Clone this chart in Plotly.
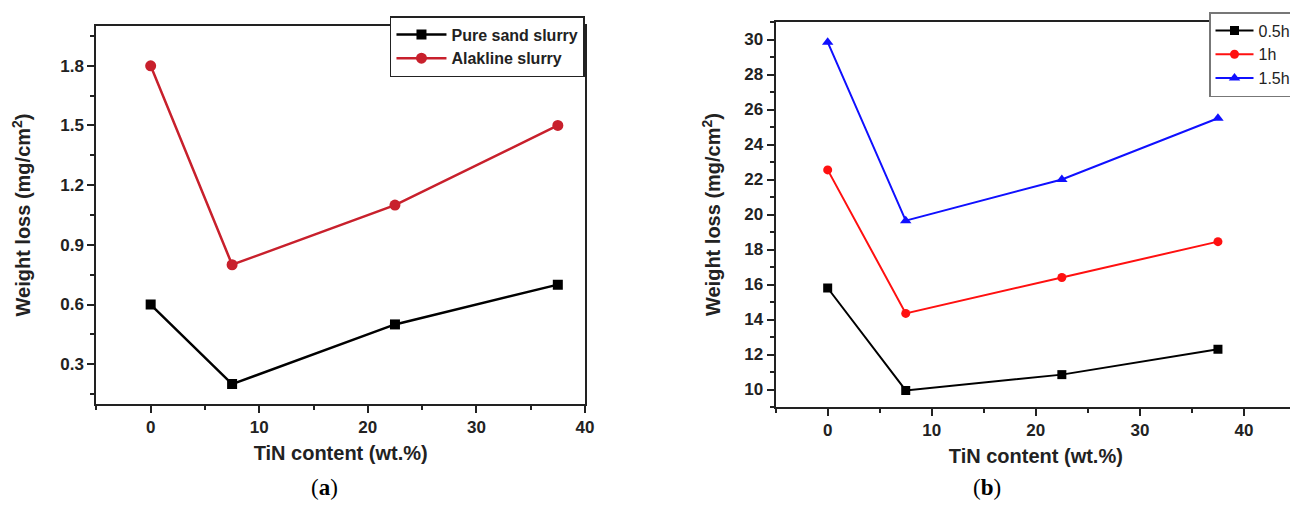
import plotly.graph_objects as go

# ---- data ----
tin_content = [0, 7.5, 22.5, 37.5]

# panel (a)
pure_sand = [0.6, 0.2, 0.5, 0.7]
alkaline = [1.8, 0.8, 1.1, 1.5]

# panel (b)
h05 = [15.8, 9.95, 10.85, 12.3]
h1 = [22.55, 14.35, 16.4, 18.45]
h15 = [29.85, 19.65, 22.0, 25.5]

W, H = 1298, 507
FONT = "Liberation Sans, Arial, sans-serif"

fig = go.Figure()

fig.add_trace(go.Scatter(x=tin_content, y=pure_sand, name="Pure sand slurry",
                         mode="lines+markers", xaxis="x", yaxis="y", legend="legend",
                         line=dict(color="black", width=2.5),
                         marker=dict(symbol="square", size=10, color="black")))
fig.add_trace(go.Scatter(x=tin_content, y=alkaline, name="Alakline slurry",
                         mode="lines+markers", xaxis="x", yaxis="y", legend="legend",
                         line=dict(color="#c8202c", width=2.5),
                         marker=dict(symbol="circle", size=11, color="#c8202c")))

fig.add_trace(go.Scatter(x=tin_content, y=h05, name="0.5h",
                         mode="lines+markers", xaxis="x2", yaxis="y2", legend="legend2",
                         line=dict(color="black", width=2),
                         marker=dict(symbol="square", size=9, color="black")))
fig.add_trace(go.Scatter(x=tin_content, y=h1, name="1h",
                         mode="lines+markers", xaxis="x2", yaxis="y2", legend="legend2",
                         line=dict(color="#ff1010", width=2),
                         marker=dict(symbol="circle", size=9, color="#ff1010")))
fig.add_trace(go.Scatter(x=tin_content, y=h15, name="1.5h",
                         mode="lines+markers", xaxis="x2", yaxis="y2", legend="legend2",
                         line=dict(color="#1010ff", width=2),
                         marker=dict(symbol="triangle-up", size=10, color="#1010ff")))

def px(x):
    return x / W

def py(y):
    return 1 - y / H

tickfont = dict(family=FONT, size=17, color="#222", weight="bold")
titlefont = dict(family=FONT, size=20, color="#222", weight="bold")

def xaxis(domain, rng, anchor):
    return dict(domain=domain, range=rng, anchor=anchor,
                showline=True, linecolor="#222", linewidth=2, mirror=True,
                ticks="outside", ticklen=7, tickwidth=2, tickcolor="#222",
                tick0=0, dtick=10, showgrid=False, zeroline=False,
                minor=dict(ticks="outside", ticklen=4, tickwidth=2, tickcolor="#222", dtick=5, tick0=0),
                tickfont=tickfont,
                title=dict(text="TiN content (wt.%)", font=titlefont, standoff=10))

def yaxis(domain, rng, anchor, dtick, mdtick, tick0, standoff):
    return dict(domain=domain, range=rng, anchor=anchor,
                showline=True, linecolor="#222", linewidth=2, mirror=True,
                ticks="outside", ticklen=7, tickwidth=2, tickcolor="#222",
                tick0=tick0, dtick=dtick, showgrid=False, zeroline=False,
                minor=dict(ticks="outside", ticklen=4, tickwidth=2, tickcolor="#222", dtick=mdtick, tick0=tick0),
                tickfont=tickfont,
                title=dict(text="Weight loss (mg/cm<sup>2</sup>)", font=titlefont, standoff=standoff))

fig.update_layout(
    width=W, height=H,
    margin=dict(l=0, r=0, t=0, b=0),
    paper_bgcolor="white", plot_bgcolor="white",
    xaxis=xaxis([px(89), px(581)], [-5, 40], "y"),
    yaxis=yaxis([py(396), py(18)], [0.1, 2.0], "x", 0.3, 0.15, 0, 24),
    xaxis2=xaxis([px(773), px(1297)], [-5, 45], "y2"),
    yaxis2=yaxis([py(399), py(14)], [9, 31], "x2", 2, 1, 0, 18),
    legend=dict(x=px(581), y=py(8), xanchor="right", yanchor="top",
                bgcolor="white", bordercolor="#222", borderwidth=1.5,
                font=dict(family=FONT, size=16, color="#222", weight="bold"),
                tracegroupgap=0, itemwidth=50),
    legend2=dict(x=px(1298), y=py(4), xanchor="right", yanchor="top",
                 bgcolor="white", bordercolor="#777", borderwidth=1.5,
                 font=dict(family=FONT, size=16, color="#222"),
                 tracegroupgap=0, itemwidth=38),
    annotations=[
        dict(text="(<b>a</b>)", x=px(303), y=py(494), xref="paper", yref="paper",
             showarrow=False, font=dict(family="Liberation Serif, serif", size=23, color="black")),
        dict(text="(<b>b</b>)", x=px(1002), y=py(494), xref="paper", yref="paper",
             showarrow=False, font=dict(family="Liberation Serif, serif", size=23, color="black")),
    ],
)

fig.write_html("out.html")
